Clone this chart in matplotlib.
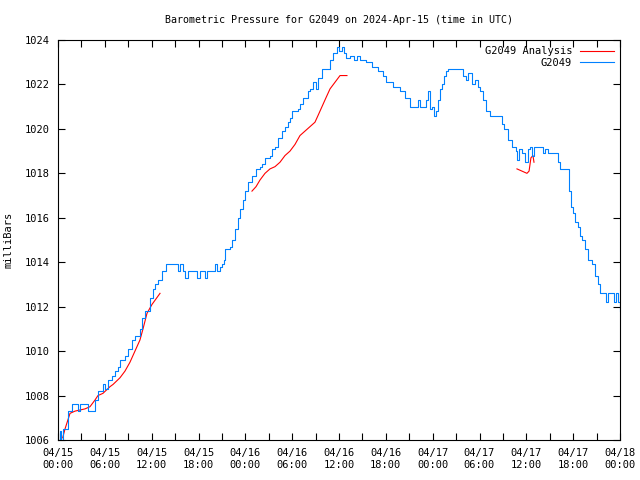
import numpy as np
import matplotlib
matplotlib.use("Agg")
import matplotlib.pyplot as plt
from matplotlib.ticker import MultipleLocator

# hours since 2024-04-15 00:00 UTC, pressure in mb
obs_hours = [0, 0.26, 0.4, 0.64, 0.9, 1.28, 1.79, 2.31, 2.56, 2.82, 3.46, 3.84, 4.36, 4.74, 5.12,
             5.76, 6.02, 6.41, 6.92, 7.30, 7.69, 7.94, 8.58, 8.97, 9.48, 9.86, 10.50, 10.76, 11.15,
             11.79, 12.17, 12.43, 12.81, 13.32, 13.84, 14.99, 15.37, 15.63, 16.01, 16.27, 16.65,
             17.55, 17.81, 18.19, 18.45, 18.83, 19.09, 19.73, 20.11, 20.37, 20.75, 21.01, 21.27,
             21.39, 22.03, 22.29, 22.68, 23.06, 23.32, 23.70, 23.96, 24.34, 24.85, 25.37, 25.88,
             26.13, 26.52, 27.16, 27.41, 27.80, 28.18, 28.70, 29.08, 29.46, 29.72, 29.98, 30.75,
             31.00, 31.39, 32.03, 32.28, 32.67, 33.05, 33.31, 33.82, 34.33, 34.85, 35.23, 35.74,
             36.00, 36.38, 36.64, 36.89, 37.41, 37.92, 38.30, 38.69, 39.20, 39.46, 39.97, 40.23,
             40.74, 40.99, 41.64, 42.02, 42.53, 42.92, 43.56, 43.81, 44.45, 45.09, 45.73, 46.12,
             46.38, 46.89, 47.14, 47.40, 47.66, 47.91, 48.17, 48.42, 48.68, 48.94, 49.19, 49.45,
             49.71, 49.96, 51.50, 51.88, 52.27, 52.52, 53.04, 53.42, 53.80, 54.06, 54.45, 54.83,
             55.34, 56.62, 56.88, 57.14, 57.65, 57.90, 58.16, 58.67, 58.80, 59.06, 59.44, 59.83,
             60.21, 60.47, 60.72, 60.98, 61.75, 62.13, 62.39, 62.77, 63.67, 64.05, 64.31, 65.33,
             65.46, 65.72, 65.97, 66.23, 66.62, 66.87, 67.13, 67.51, 67.90, 68.41, 68.79, 69.18,
             69.43, 69.95, 70.20, 70.46, 70.97, 71.23, 71.49, 71.74, 72.00]
obs_mb = [1006.0, 1006.4, 1006.0, 1006.5, 1006.5, 1007.3, 1007.6, 1007.6, 1007.3, 1007.6, 1007.6,
          1007.3, 1007.3, 1007.8, 1008.2, 1008.5, 1008.3, 1008.7, 1008.9, 1009.1, 1009.3, 1009.6,
          1009.8, 1010.1, 1010.5, 1010.7, 1011.0, 1011.5, 1011.8, 1012.4, 1012.8, 1013.0, 1013.2,
          1013.6, 1013.9, 1013.9, 1013.6, 1013.9, 1013.6, 1013.3, 1013.6, 1013.6, 1013.3, 1013.6,
          1013.6, 1013.3, 1013.6, 1013.6, 1013.9, 1013.6, 1013.8, 1013.9, 1014.1, 1014.6, 1014.7,
          1015.0, 1015.5, 1016.0, 1016.4, 1016.8, 1017.2, 1017.6, 1017.9, 1018.2, 1018.3, 1018.4,
          1018.7, 1018.8, 1019.1, 1019.2, 1019.6, 1019.9, 1020.1, 1020.3, 1020.5, 1020.8, 1020.9,
          1021.1, 1021.4, 1021.7, 1021.8, 1022.1, 1021.8, 1022.3, 1022.7, 1022.7, 1023.1, 1023.4,
          1023.7, 1023.5, 1023.7, 1023.4, 1023.2, 1023.3, 1023.1, 1023.3, 1023.1, 1023.1, 1023.0,
          1023.0, 1022.8, 1022.8, 1022.6, 1022.4, 1022.1, 1022.1, 1021.9, 1021.9, 1021.7, 1021.4,
          1021.0, 1021.0, 1021.3, 1021.0, 1021.0, 1021.3, 1021.7, 1020.9, 1021.0, 1020.6, 1020.8,
          1021.3, 1021.8, 1022.0, 1022.4, 1022.6, 1022.7, 1022.7, 1022.4, 1022.2, 1022.5, 1022.0,
          1022.2, 1021.9, 1021.7, 1021.3, 1020.8, 1020.6, 1020.6, 1020.2, 1020.0, 1019.5, 1019.5,
          1019.2, 1019.0, 1018.6, 1019.1, 1018.9, 1018.5, 1019.1, 1019.2, 1018.8, 1019.2, 1019.2,
          1018.9, 1019.1, 1018.9, 1018.9, 1018.5, 1018.2, 1018.2, 1017.2, 1016.5, 1016.2, 1015.8,
          1015.6, 1015.2, 1015.0, 1014.6, 1014.1, 1013.9, 1013.4, 1013.0, 1012.6, 1012.6, 1012.2,
          1012.6, 1012.6, 1012.2, 1012.6, 1012.2, 1011.8]

ana1_hours = [0.6, 0.9, 1.54, 2.18, 3.46, 4.10, 4.74, 5.12, 5.76, 6.66, 7.05, 7.94, 8.58, 9.22,
              9.86, 10.50, 10.89, 11.40, 12.04, 13.07]
ana1_mb = [1006.1, 1006.5, 1007.2, 1007.3, 1007.4, 1007.5, 1007.8, 1008.0, 1008.1, 1008.4, 1008.5,
           1008.8, 1009.1, 1009.5, 1010.0, 1010.5, 1011.0, 1011.7, 1012.1, 1012.6]
ana2_hours = [24.85, 25.37, 25.88, 26.52, 27.16, 27.80, 28.44, 29.08, 29.72, 30.36, 31.00, 31.64,
              32.28, 32.92, 33.31, 33.82, 34.33, 34.85, 35.49, 36.13, 36.77, 37.02]
ana2_mb = [1017.2, 1017.4, 1017.7, 1018.0, 1018.2, 1018.3, 1018.5, 1018.8, 1019.0, 1019.3, 1019.7,
           1019.9, 1020.1, 1020.3, 1020.6, 1021.0, 1021.4, 1021.8, 1022.1, 1022.4, 1022.4, 1022.4]
ana3_hours = [58.80, 59.44, 60.08, 60.35, 60.59, 60.85, 60.98]
ana3_mb = [1018.2, 1018.1, 1018.0, 1018.1, 1018.7, 1018.8, 1018.5]

x_tick_hours = list(range(0, 73, 6))
x_tick_labels = ["04/15\n00:00", "04/15\n06:00", "04/15\n12:00", "04/15\n18:00",
                 "04/16\n00:00", "04/16\n06:00", "04/16\n12:00", "04/16\n18:00",
                 "04/17\n00:00", "04/17\n06:00", "04/17\n12:00", "04/17\n18:00",
                 "04/18\n00:00"]
y_ticks = list(range(1006, 1025, 2))

plt.rcParams['font.family'] = ['DejaVu Sans Mono']

fig = plt.figure(figsize=(6.4, 4.8), dpi=100)
ax = fig.add_axes([58/640, 40/480, 562/640, 400/480])

ana_h = ana1_hours + [np.nan] + ana2_hours + [np.nan] + ana3_hours
ana_p = ana1_mb + [np.nan] + ana2_mb + [np.nan] + ana3_mb
ax.plot(ana_h, ana_p, color='#ff0000', lw=0.8, label='G2049 Analysis')
ax.plot(obs_hours, obs_mb, color='#0080ff', lw=0.8, drawstyle='steps-post', label='G2049')

ax.set_xlim(0, 72)
ax.set_ylim(1006, 1024)
ax.set_xticks(x_tick_hours)
ax.set_xticklabels(x_tick_labels)
ax.xaxis.set_minor_locator(MultipleLocator(3))
ax.set_yticks(y_ticks)
ax.set_yticklabels([str(v) for v in y_ticks])
ax.tick_params(axis='both', which='both', direction='in', top=True, right=True,
               labelsize=7.5, width=0.8, pad=6)
ax.tick_params(axis='both', which='major', length=5)
ax.tick_params(axis='both', which='minor', length=5)
for s in ax.spines.values():
    s.set_linewidth(0.8)

ax.set_ylabel('milliBars', fontsize=7.5, labelpad=8)
fig.text(339/640, 1 - 20/480, 'Barometric Pressure for G2049 on 2024-Apr-15 (time in UTC)',
         fontsize=7.2, ha='center', va='center')

leg = ax.legend(loc='upper right', frameon=False, fontsize=7.5, markerfirst=False,
                handlelength=3.2, handletextpad=0.8, borderaxespad=0.2, labelspacing=0.15)
for t in leg.get_texts():
    t.set_ha('right')

fig.savefig('out.png', dpi=100)
